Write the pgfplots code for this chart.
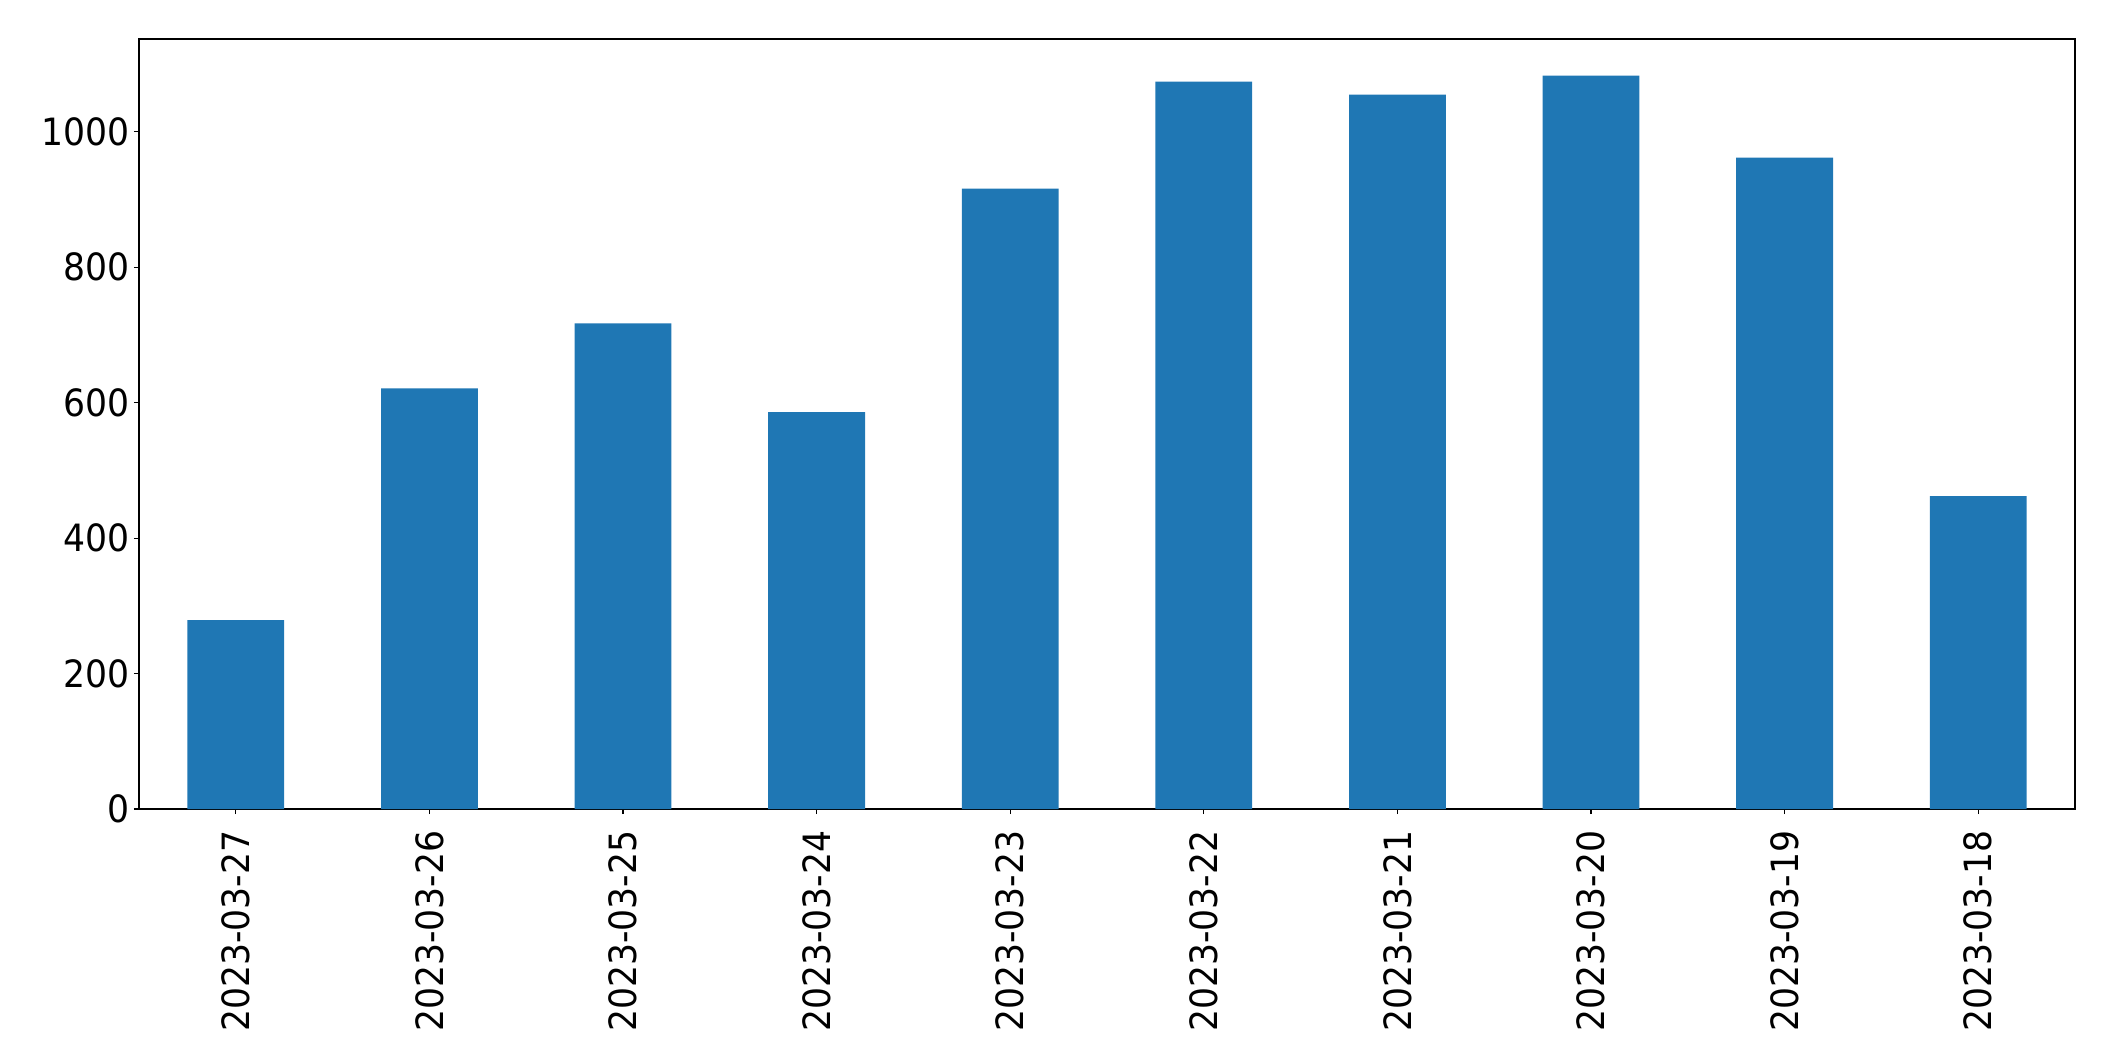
\documentclass[border=0pt]{standalone}
\usepackage{pgfplots}
\pgfplotsset{compat=1.18}
\usepackage{fontspec}
\setmainfont{DejaVu Sans}[FakeStretch=0.92]
\definecolor{mplblue}{HTML}{1F77B4}
\begin{document}
\begin{tikzpicture}
\begin{axis}[
  scale only axis,
  width=968pt, height=385pt,
  xmin=-0.5, xmax=9.5,
  ymin=0, ymax=1137,
  ybar, bar width=0.5, bar shift=0pt,
  xtick=data,
  xticklabels={2023-03-27,2023-03-26,2023-03-25,2023-03-24,2023-03-23,2023-03-22,2023-03-21,2023-03-20,2023-03-19,2023-03-18},
  ytick={0,200,400,600,800,1000},
  tick align=outside,
  tick pos=left,
  major tick length=2.5pt,
  every tick/.style={black, line width=0.6pt},
  axis line style={line width=0.6pt},
  /pgf/number format/assume math mode=true,
  /pgf/number format/1000 sep={},
  ticklabel style={font=\fontsize{18.8}{22}\selectfont},
  xticklabel style={rotate=90, anchor=east, inner sep=0pt, xshift=-8.2pt},
  yticklabel style={inner sep=0pt, xshift=-2pt},
]
\addplot[fill=mplblue, draw=none] coordinates {
(0,279) (1,621) (2,717) (3,586) (4,916) (5,1074) (6,1055) (7,1083) (8,962) (9,462)};
\end{axis}
\path ([shift={(-69.5pt,-126pt)}]current axis.south west) rectangle ([shift={(20pt,19.5pt)}]current axis.north east);
\end{tikzpicture}
\end{document}
